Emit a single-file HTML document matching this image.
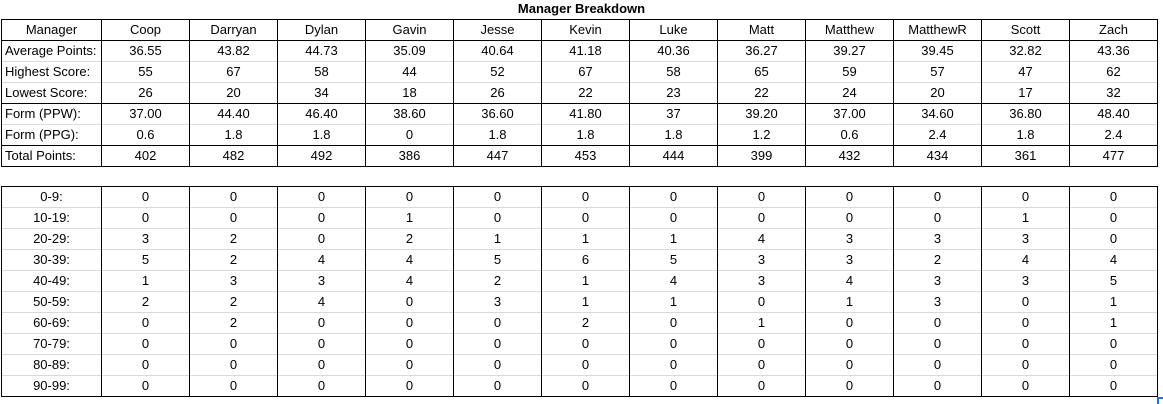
<!DOCTYPE html><html><head><style>
body{margin:0;width:1163px;height:404px;background:#fff;position:relative;font-family:"Liberation Sans",Arial,sans-serif;font-size:13px;color:#000;overflow:hidden}
.t{position:absolute;left:0;top:0;width:1163px;text-align:center;font-weight:bold;font-size:13px;line-height:18px}
table{position:absolute;left:1px;border-collapse:collapse;table-layout:fixed}
td{height:20px;padding:0;border-left:1px solid #000;border-right:1px solid #000;border-top:1px solid #d9d9d9;text-align:center;white-space:nowrap;line-height:20px;overflow:hidden}
td:first-child{width:99px}
td{width:87px}
tr.b td{border-top:1px solid #000}
tr:last-child td{border-bottom:1px solid #000}
#a td:first-child{text-align:left;padding-left:3px;width:96px}
#a tr:first-child td:first-child{text-align:center;padding-left:0;width:99px}
.c{position:absolute;left:1157px;top:397px;width:5px;height:5px;border-left:2px solid #1a73e8;border-top:2px solid #1a73e8}
</style></head><body>
<div class="t">Manager Breakdown</div>
<table id="a" style="top:19px">
<tr class="b"><td>Manager</td><td>Coop</td><td>Darryan</td><td>Dylan</td><td>Gavin</td><td>Jesse</td><td>Kevin</td><td>Luke</td><td>Matt</td><td>Matthew</td><td>MatthewR</td><td>Scott</td><td>Zach</td></tr>
<tr class="b"><td>Average Points:</td><td>36.55</td><td>43.82</td><td>44.73</td><td>35.09</td><td>40.64</td><td>41.18</td><td>40.36</td><td>36.27</td><td>39.27</td><td>39.45</td><td>32.82</td><td>43.36</td></tr>
<tr><td>Highest Score:</td><td>55</td><td>67</td><td>58</td><td>44</td><td>52</td><td>67</td><td>58</td><td>65</td><td>59</td><td>57</td><td>47</td><td>62</td></tr>
<tr><td>Lowest Score:</td><td>26</td><td>20</td><td>34</td><td>18</td><td>26</td><td>22</td><td>23</td><td>22</td><td>24</td><td>20</td><td>17</td><td>32</td></tr>
<tr class="b"><td>Form (PPW):</td><td>37.00</td><td>44.40</td><td>46.40</td><td>38.60</td><td>36.60</td><td>41.80</td><td>37</td><td>39.20</td><td>37.00</td><td>34.60</td><td>36.80</td><td>48.40</td></tr>
<tr><td>Form (PPG):</td><td>0.6</td><td>1.8</td><td>1.8</td><td>0</td><td>1.8</td><td>1.8</td><td>1.8</td><td>1.2</td><td>0.6</td><td>2.4</td><td>1.8</td><td>2.4</td></tr>
<tr class="b"><td>Total Points:</td><td>402</td><td>482</td><td>492</td><td>386</td><td>447</td><td>453</td><td>444</td><td>399</td><td>432</td><td>434</td><td>361</td><td>477</td></tr>
</table>
<table style="top:186px">
<tr class="b"><td>0-9:</td><td>0</td><td>0</td><td>0</td><td>0</td><td>0</td><td>0</td><td>0</td><td>0</td><td>0</td><td>0</td><td>0</td><td>0</td></tr>
<tr><td>10-19:</td><td>0</td><td>0</td><td>0</td><td>1</td><td>0</td><td>0</td><td>0</td><td>0</td><td>0</td><td>0</td><td>1</td><td>0</td></tr>
<tr><td>20-29:</td><td>3</td><td>2</td><td>0</td><td>2</td><td>1</td><td>1</td><td>1</td><td>4</td><td>3</td><td>3</td><td>3</td><td>0</td></tr>
<tr><td>30-39:</td><td>5</td><td>2</td><td>4</td><td>4</td><td>5</td><td>6</td><td>5</td><td>3</td><td>3</td><td>2</td><td>4</td><td>4</td></tr>
<tr><td>40-49:</td><td>1</td><td>3</td><td>3</td><td>4</td><td>2</td><td>1</td><td>4</td><td>3</td><td>4</td><td>3</td><td>3</td><td>5</td></tr>
<tr><td>50-59:</td><td>2</td><td>2</td><td>4</td><td>0</td><td>3</td><td>1</td><td>1</td><td>0</td><td>1</td><td>3</td><td>0</td><td>1</td></tr>
<tr><td>60-69:</td><td>0</td><td>2</td><td>0</td><td>0</td><td>0</td><td>2</td><td>0</td><td>1</td><td>0</td><td>0</td><td>0</td><td>1</td></tr>
<tr><td>70-79:</td><td>0</td><td>0</td><td>0</td><td>0</td><td>0</td><td>0</td><td>0</td><td>0</td><td>0</td><td>0</td><td>0</td><td>0</td></tr>
<tr><td>80-89:</td><td>0</td><td>0</td><td>0</td><td>0</td><td>0</td><td>0</td><td>0</td><td>0</td><td>0</td><td>0</td><td>0</td><td>0</td></tr>
<tr><td>90-99:</td><td>0</td><td>0</td><td>0</td><td>0</td><td>0</td><td>0</td><td>0</td><td>0</td><td>0</td><td>0</td><td>0</td><td>0</td></tr>
</table>
<div class="c"></div>
</body></html>
